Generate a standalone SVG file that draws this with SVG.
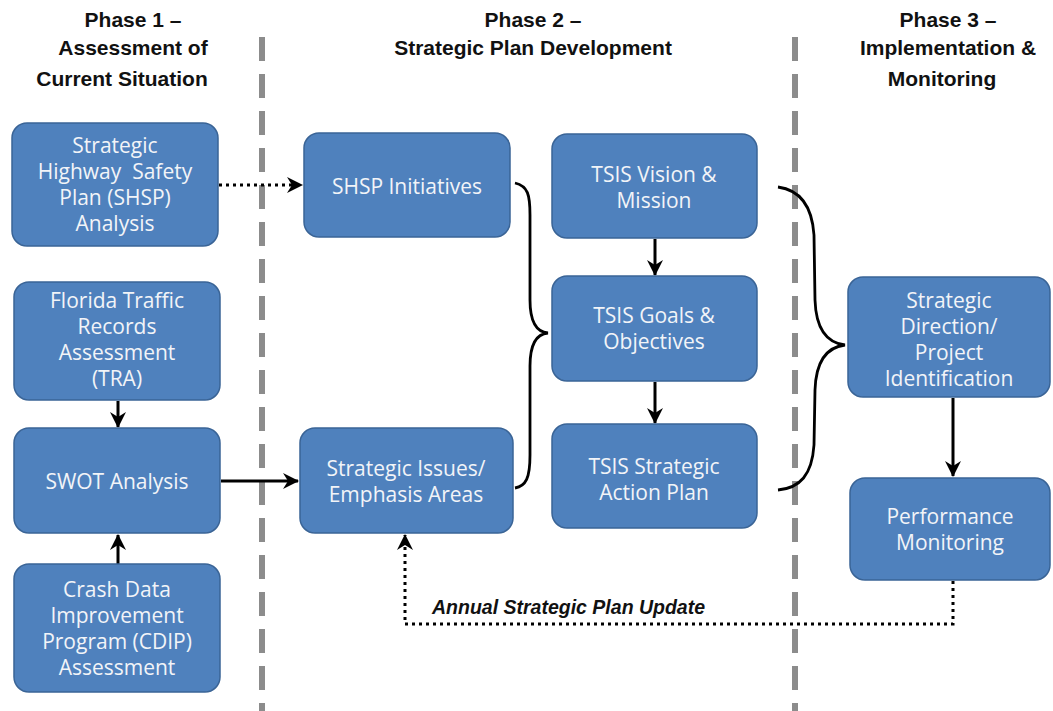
<svg xmlns="http://www.w3.org/2000/svg" width="1053" height="711" viewBox="0 0 1053 711">
<defs>
<marker id="arr" markerUnits="userSpaceOnUse" markerWidth="18" markerHeight="18" refX="15" refY="8" orient="auto">
<path d="M0,0 L16,8 L0,16 L5,8 z" fill="#000"/>
</marker>
<style>
.box{fill:#4f81bd;stroke:#3a6496;stroke-width:1.5}
.t{font-family:"Open Sans","Noto Sans",sans-serif;font-size:21px;fill:#f2f4f8;text-anchor:middle}
.h{font-family:"Liberation Sans",Arial,sans-serif;font-weight:bold;font-size:21px;fill:#111;text-anchor:middle}
.sep{stroke:#8c8c8c;stroke-width:6;stroke-dasharray:24 13;fill:none}
.solid{stroke:#000;stroke-width:3;fill:none}
.dot{stroke:#000;stroke-width:3;fill:none;stroke-dasharray:3 4}
.brace{stroke:#000;stroke-width:2.8;fill:none}
.lbl{font-family:"Liberation Sans",Arial,sans-serif;font-weight:bold;font-style:italic;font-size:19.5px;fill:#111}
</style>
</defs>
<rect width="1053" height="711" fill="#fff"/>
<g id="headers">
<text class="h" x="133" y="27">Phase 1 –</text>
<text class="h" x="133" y="55">Assessment of</text>
<text class="h" x="122" y="86">Current Situation</text>
<text class="h" x="533" y="27">Phase 2 –</text>
<text class="h" x="533" y="55">Strategic Plan Development</text>
<text class="h" x="948" y="27">Phase 3 –</text>
<text class="h" x="948" y="55">Implementation &amp;</text>
<text class="h" x="942" y="86">Monitoring</text>
</g>
<g id="separators">
<line class="sep" x1="262" y1="37" x2="262" y2="711"/>
<line class="sep" x1="795" y1="37" x2="795" y2="711"/>
</g>
<g id="connectors">
<line class="dot" x1="219" y1="185" x2="302" y2="185" marker-end="url(#arr)"/>
<line class="solid" x1="221" y1="481" x2="298" y2="481" marker-end="url(#arr)"/>
<line class="solid" x1="118" y1="401" x2="118" y2="427" marker-end="url(#arr)"/>
<line class="solid" x1="118" y1="564" x2="118" y2="535" marker-end="url(#arr)"/>
<line class="solid" x1="655" y1="239" x2="655" y2="275" marker-end="url(#arr)"/>
<line class="solid" x1="655" y1="382" x2="655" y2="423" marker-end="url(#arr)"/>
<line class="solid" x1="953" y1="398" x2="953" y2="476" marker-end="url(#arr)"/>
<path class="dot" d="M953,581 L953,624 L405,624 L405,535" marker-end="url(#arr)"/>
<path class="brace" d="M515,183 C528,186 530,195 530,215 L530,300 C530,322 536,332 548,333 C536,334 530,344 530,366 L530,455 C530,478 526,486 515,488"/>
<path class="brace" d="M778,187 C800,190 812,205 814,235 L815,300 C816,330 828,343 845,345 C828,347 816,360 815,390 L814,445 C812,475 800,488 778,490"/>
<text class="lbl" x="432" y="614">Annual Strategic Plan Update</text>
</g>
<g id="n-shsp-analysis">
<rect class="box" x="12" y="123" width="206" height="123" rx="15"/>
<text class="t" x="115" y="153">Strategic</text>
<text class="t" x="115" y="179">Highway&#160; Safety</text>
<text class="t" x="115" y="205">Plan (SHSP)</text>
<text class="t" x="115" y="231">Analysis</text>
</g>
<g id="n-tra">
<rect class="box" x="14" y="282" width="206" height="118" rx="15"/>
<text class="t" x="117" y="308">Florida Traffic</text>
<text class="t" x="117" y="334">Records</text>
<text class="t" x="117" y="360">Assessment</text>
<text class="t" x="117" y="386">(TRA)</text>
</g>
<g id="n-swot">
<rect class="box" x="14" y="428" width="206" height="105" rx="15"/>
<text class="t" x="117" y="489">SWOT Analysis</text>
</g>
<g id="n-cdip">
<rect class="box" x="14" y="564" width="206" height="128" rx="15"/>
<text class="t" x="117" y="597">Crash Data</text>
<text class="t" x="117" y="623">Improvement</text>
<text class="t" x="117" y="649">Program (CDIP)</text>
<text class="t" x="117" y="675">Assessment</text>
</g>
<g id="n-shsp-init">
<rect class="box" x="304" y="133" width="206" height="104" rx="15"/>
<text class="t" x="407" y="194">SHSP Initiatives</text>
</g>
<g id="n-issues">
<rect class="box" x="300" y="428" width="213" height="105" rx="15"/>
<text class="t" x="406" y="476">Strategic Issues/</text>
<text class="t" x="406" y="502">Emphasis Areas</text>
</g>
<g id="n-vision">
<rect class="box" x="552" y="134" width="205" height="104" rx="15"/>
<text class="t" x="654" y="182">TSIS Vision &amp;</text>
<text class="t" x="654" y="208">Mission</text>
</g>
<g id="n-goals">
<rect class="box" x="552" y="276" width="205" height="105" rx="15"/>
<text class="t" x="654" y="323">TSIS Goals &amp;</text>
<text class="t" x="654" y="349">Objectives</text>
</g>
<g id="n-action">
<rect class="box" x="552" y="424" width="205" height="104" rx="15"/>
<text class="t" x="654" y="474">TSIS Strategic</text>
<text class="t" x="654" y="500">Action Plan</text>
</g>
<g id="n-direction">
<rect class="box" x="848" y="277" width="202" height="120" rx="15"/>
<text class="t" x="949" y="308">Strategic</text>
<text class="t" x="949" y="334">Direction/</text>
<text class="t" x="949" y="360">Project</text>
<text class="t" x="949" y="386">Identification</text>
</g>
<g id="n-performance">
<rect class="box" x="850" y="478" width="200" height="102" rx="15"/>
<text class="t" x="950" y="524">Performance</text>
<text class="t" x="950" y="550">Monitoring</text>
</g>
</svg>
